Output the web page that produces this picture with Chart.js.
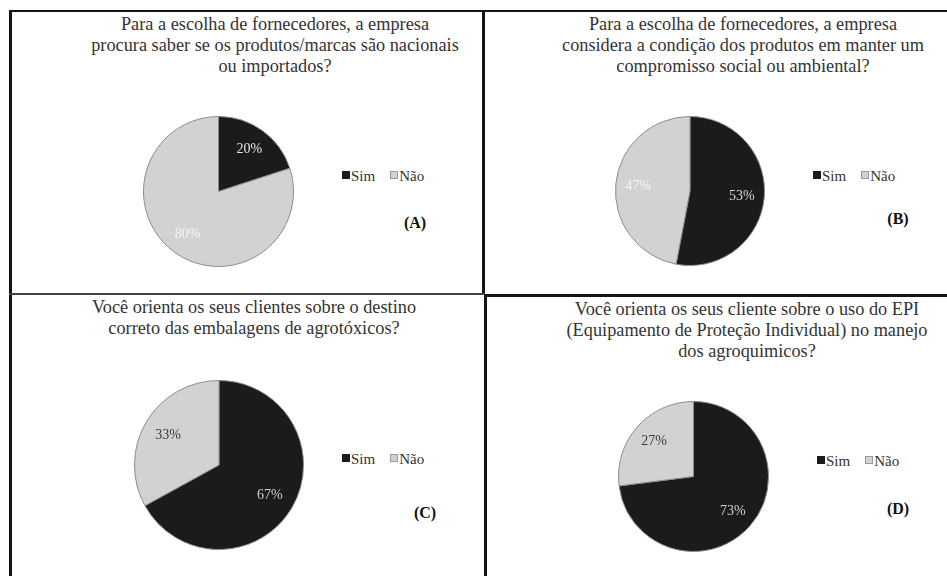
<!DOCTYPE html>
<html lang="pt-BR">
<head>
<meta charset="utf-8">
<title>Fornecedores e orientação aos clientes</title>
<script src="https://cdn.jsdelivr.net/npm/chart.js@4.4.1/dist/chart.umd.min.js"></script>
<style>
  body { margin: 0; background: #fff; }
  #page { position: relative; width: 947px; height: 576px; overflow: hidden; background: #fff; color: #333; }
  #page div, #page span { font-family: "Liberation Serif", "Times New Roman", Times, serif; }
  .rule { position: absolute; background: #151515; }
  .titulo { position: absolute; width: 560px; text-align: center; font-size: 18.3px; line-height: 21px; white-space: nowrap; }
  .legenda { position: absolute; font-size: 15px; line-height: 15px; white-space: nowrap; }
  .legenda .item { display: inline-block; margin-right: 15px; }
  .legenda .box { display: inline-block; width: 6px; height: 6px; margin-right: 1px; vertical-align: 2px; }
  .tag { position: absolute; font-size: 16px; font-weight: bold; color: #111; transform: translate(-50%, -50%); }
  canvas { position: absolute; }
</style>
</head>
<body>
<div id="page">
  <div class="rule" style="left:9px; top:10px; width:938px; height:2px;"></div>
  <div class="rule" style="left:9px; top:10px; width:3px; height:566px;"></div>
  <div class="rule" style="left:482px; top:10px; width:3px; height:285px;"></div>
  <div class="rule" style="left:484px; top:294px; width:3px; height:282px;"></div>
  <div class="rule" style="left:9px; top:293px; width:476px; height:2px; background:#444;"></div>
  <div class="rule" style="left:484px; top:294px; width:463px; height:3px;"></div>
</div>
<script>
// respostas (%) de cada pergunta
const categories = ['Sim', 'Não'];
const simValues = [20, 53, 67, 73];
const naoValues = [80, 47, 33, 27];
const tags = ['(A)', '(B)', '(C)', '(D)'];
const titles = [
    ['Para a escolha de fornecedores, a empresa', 'procura saber se os produtos/marcas são nacionais', 'ou importados?'],
    ['Para a escolha de fornecedores, a empresa', 'considera a condição dos produtos em manter um', 'compromisso social  ou ambiental?'],
    ['Você orienta os seus clientes  sobre o destino', 'correto das embalagens de agrotóxicos?'],
    ['Você orienta os seus cliente  sobre o uso do EPI', '(Equipamento de Proteção Individual)  no manejo', 'dos agroquimicos?']
];

const sliceColors = ['#1b1b1b', '#d2d2d2'];

// posição de cada painel: centro/raio da pizza, título, legenda, letra
const panels = [
    { cx: 218.5, cy: 191.5, r: 74.5, titleX: 275, titleY: 25, legX: 342, legY: 177, tagX: 415, tagY: 223, labelColors: ['#e4e4e4', '#f6f6f6'] },
    { cx: 690, cy: 191, r: 74, titleX: 743, titleY: 25, legX: 813, legY: 177, tagX: 898, tagY: 219, labelColors: ['#d8d8d8', '#f6f6f6'] },
    { cx: 219, cy: 465, r: 84, titleX: 254, titleY: 308, legX: 342, legY: 460, tagX: 425, tagY: 513, labelColors: ['#cfcfcf', '#3a3a3a'] },
    { cx: 693, cy: 476.5, r: 74.5, titleX: 747, titleY: 310, legX: 817, legY: 462, tagX: 898, tagY: 509, labelColors: ['#cfcfcf', '#3a3a3a'] }
];

// rótulos de porcentagem dentro das fatias
const sliceLabels = {
    id: 'sliceLabels',
    afterDatasetsDraw(chart, args, opts) {
        const ctx = chart.ctx;
        const meta = chart.getDatasetMeta(0);
        ctx.save();
        ctx.font = '14px "Liberation Serif", "Times New Roman", serif';
        ctx.textAlign = 'center';
        ctx.textBaseline = 'middle';
        meta.data.forEach((arc, i) => {
            const p = arc.getProps(['x', 'y', 'startAngle', 'endAngle', 'outerRadius'], true);
            const mid = (p.startAngle + p.endAngle) / 2;
            const d = p.outerRadius * 0.7;
            ctx.fillStyle = opts.colors[i];
            ctx.fillText(chart.data.datasets[0].data[i] + '%', p.x + Math.cos(mid) * d, p.y + Math.sin(mid) * d);
        });
        ctx.restore();
    }
};

const page = document.getElementById('page');

panels.forEach((pn, k) => {
    const title = document.createElement('div');
    title.className = 'titulo';
    title.style.left = (pn.titleX - 280) + 'px';
    title.style.top = (pn.titleY - 11) + 'px';
    title.innerHTML = titles[k].join('<br>');
    page.appendChild(title);

    const leg = document.createElement('div');
    leg.className = 'legenda';
    leg.style.left = pn.legX + 'px';
    leg.style.top = (pn.legY - 8) + 'px';
    categories.forEach((c, i) => {
        const item = document.createElement('span');
        item.className = 'item';
        const box = document.createElement('span');
        box.className = 'box';
        box.style.background = sliceColors[i];
        box.style.border = '1px solid ' + (i === 0 ? '#1b1b1b' : '#9a9a9a');
        item.appendChild(box);
        item.appendChild(document.createTextNode(c));
        leg.appendChild(item);
    });
    page.appendChild(leg);

    const tag = document.createElement('div');
    tag.className = 'tag';
    tag.style.left = pn.tagX + 'px';
    tag.style.top = pn.tagY + 'px';
    tag.textContent = tags[k];
    page.appendChild(tag);

    const size = Math.round(pn.r * 2 + 2);
    const canvas = document.createElement('canvas');
    canvas.width = size;
    canvas.height = size;
    canvas.style.left = (pn.cx - size / 2) + 'px';
    canvas.style.top = (pn.cy - size / 2) + 'px';
    page.appendChild(canvas);

    new Chart(canvas.getContext('2d'), {
        type: 'pie',
        data: {
            labels: categories,
            datasets: [{
                data: [simValues[k], naoValues[k]],
                backgroundColor: sliceColors,
                borderColor: '#8c8c8c',
                borderWidth: 1
            }]
        },
        options: {
            responsive: false,
            animation: false,
            events: [],
            layout: { padding: 0 },
            plugins: {
                legend: { display: false },
                tooltip: { enabled: false },
                sliceLabels: { colors: pn.labelColors }
            }
        },
        plugins: [sliceLabels]
    });
});
</script>
</body>
</html>
